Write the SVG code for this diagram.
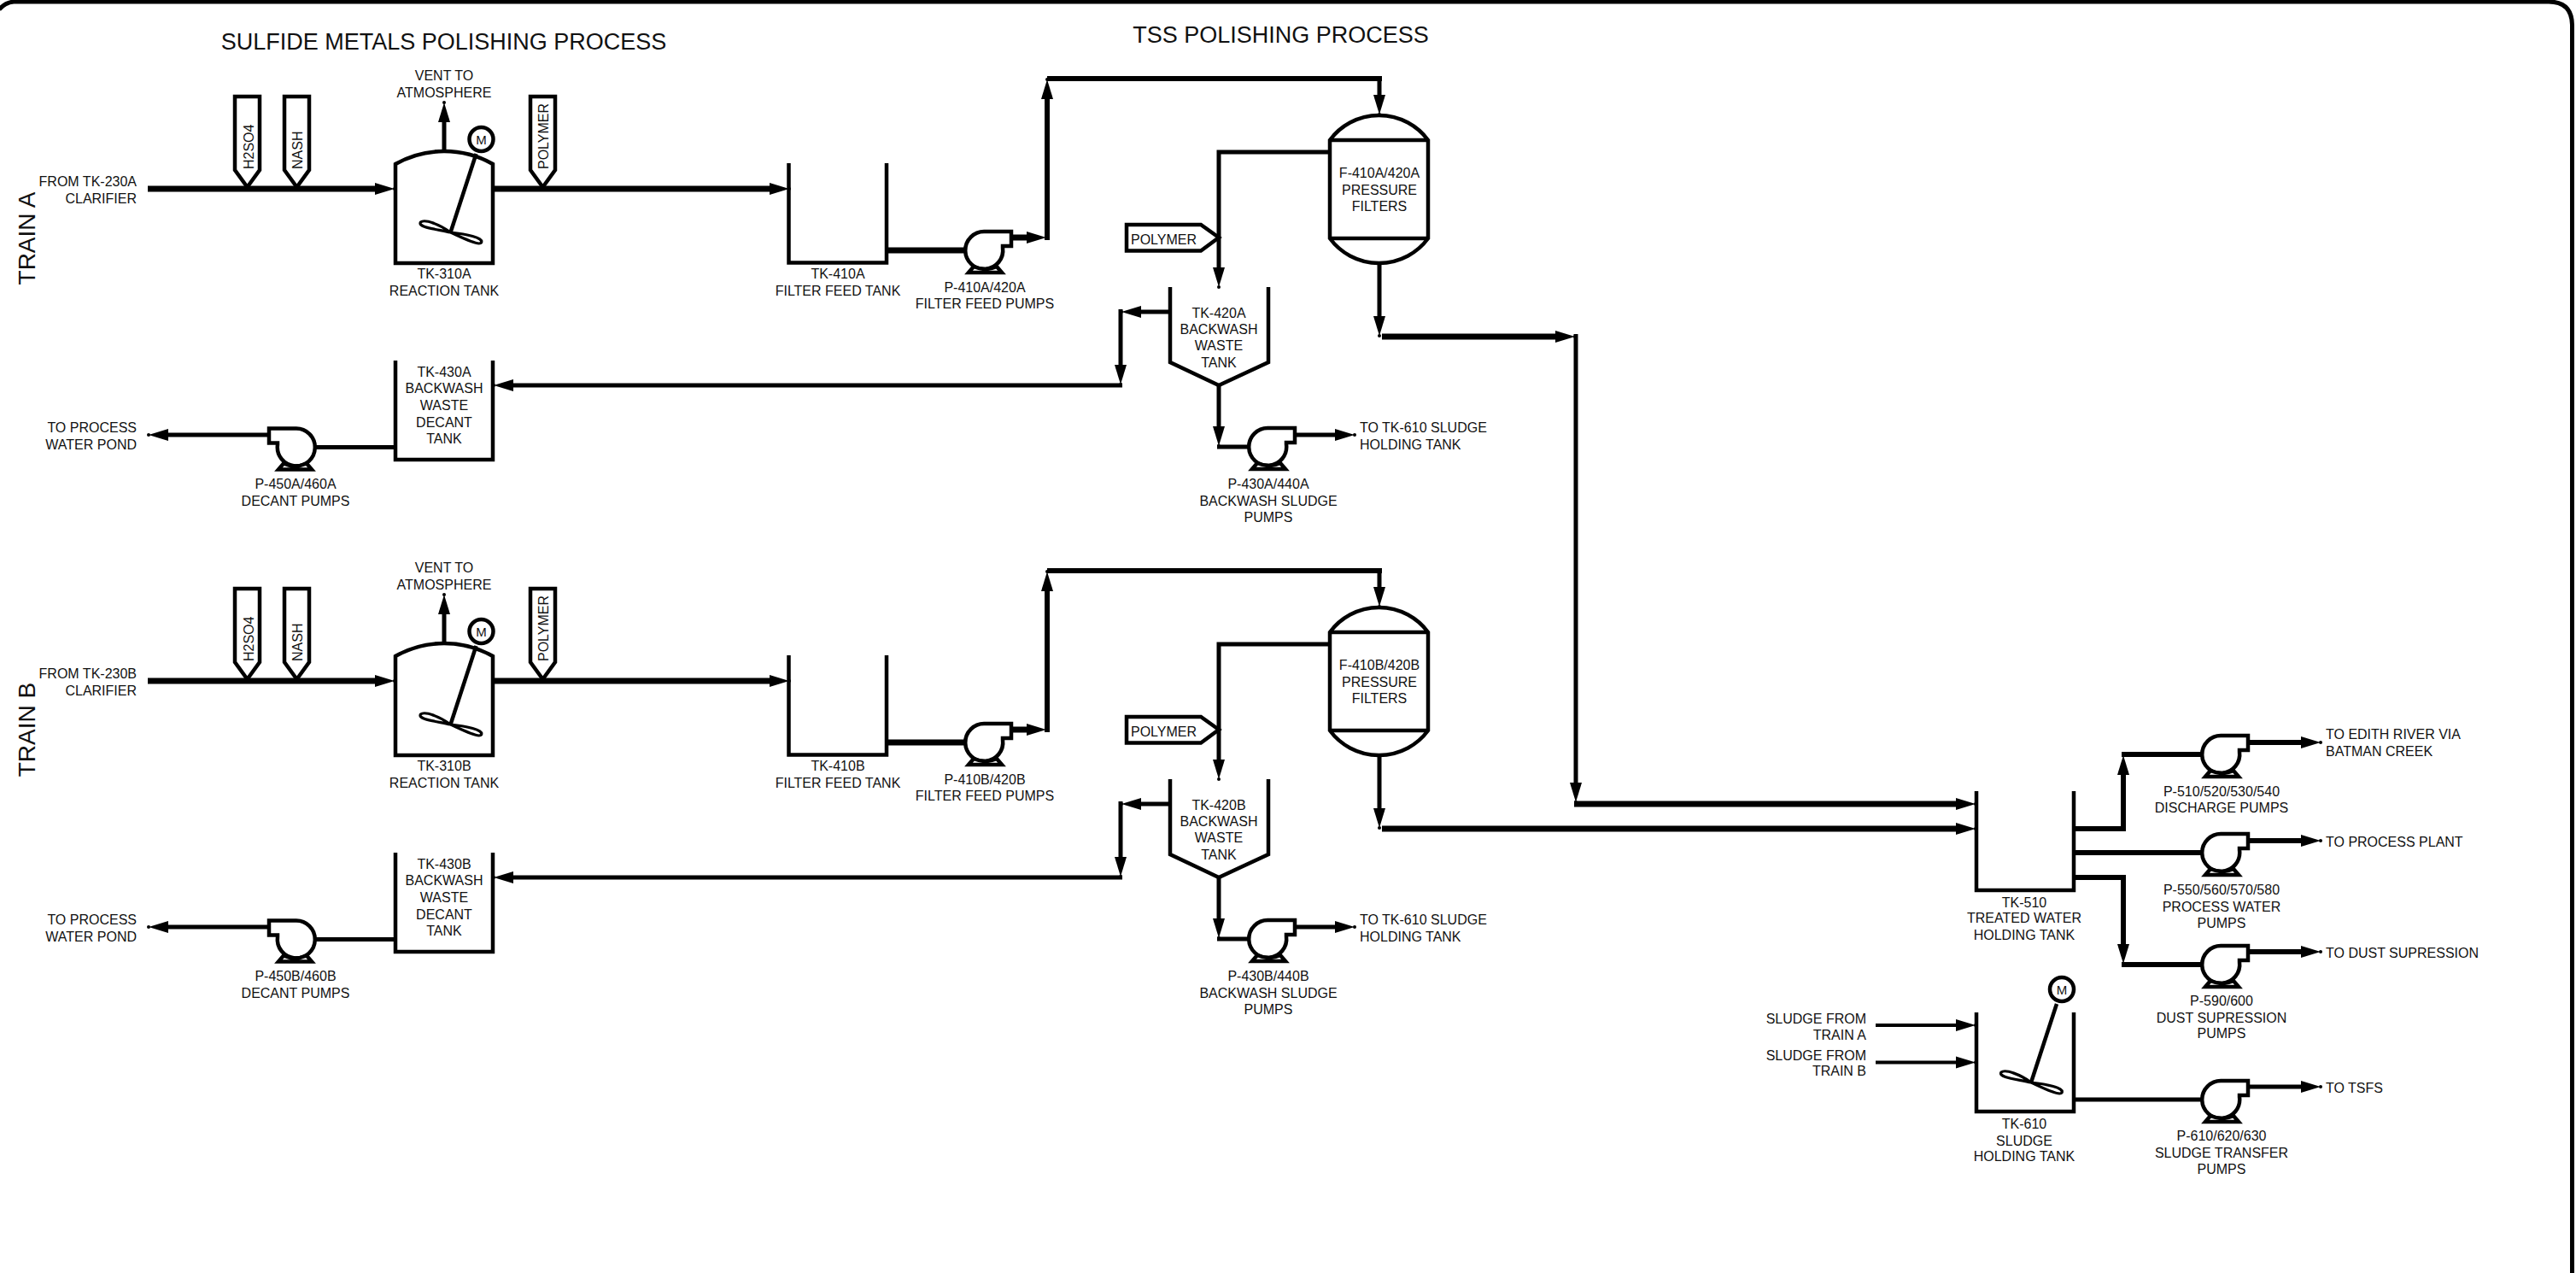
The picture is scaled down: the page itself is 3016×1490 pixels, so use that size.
<svg xmlns="http://www.w3.org/2000/svg" xmlns:xlink="http://www.w3.org/1999/xlink" width="3016" height="1490" viewBox="0 0 3016 1490">
<style>
text{font-family:"Liberation Sans",Arial,sans-serif;font-size:16px;fill:#111}
.m{text-anchor:middle}.e{text-anchor:end}
.h{font-size:27px}.tr{font-size:28px}
path,line,circle{stroke:#000;stroke-linejoin:miter}
.eq{fill:none;stroke-width:4.5}
.wh{fill:#fff;stroke-width:4.5}
.c7,.c6,.c5,.c4{fill:none}
.c7{stroke-width:7}.c6{stroke-width:6}.c5{stroke-width:5}.c4{stroke-width:4}
.ar{marker-end:url(#ah)}
.bl{fill:none;stroke-width:3.2}
</style>
<defs>
<marker id="ah" markerUnits="userSpaceOnUse" markerWidth="28" markerHeight="14" refX="4" refY="7" orient="auto" overflow="visible"><path d="M0,0L23,7L0,14Z" style="stroke:none;fill:#000"/><circle cx="23" cy="7" r="2" style="stroke:none;fill:#000"/></marker>
<g id="pump"><path class="wh" d="M0,-22H31V-5H21V-3A22,22 0 1 1 0,-22Z"/><path class="wh" d="M-19,26H20L14,19Q1,25 -13,19Z"/></g>
<g id="pumpL"><use xlink:href="#pump" transform="scale(-1,1)"/></g>
<g id="tagV"><path class="wh" d="M-14.5,-107H14.5V-21L0,-1L-14.5,-21Z"/></g>
<g id="agi"><line x1="-6" y1="17" x2="-36" y2="109" style="stroke-width:4.5"/><circle class="wh" r="14"/><path class="bl" d="M-36,109C-48,100 -66,93 -71,97C-75,103 -53,105 -36,109C-23,115 -3,125 0,121C3,115 -18,111 -36,109Z"/></g>
<g id="tk310"><path class="eq" d="M463,308V192A116,116 0 0 1 577,192V308Z"/></g>
<g id="tk410"><path class="eq" d="M923.5,191V307.5H1038V191"/></g>
<g id="tk430"><path class="eq" d="M463,422V538H577V422"/></g>
<g id="tk420"><path class="eq" d="M1370,336V424L1427,451L1485,424V336"/></g>
<g id="filter"><path class="wh" d="M1557,164A71.5,71.5 0 0 1 1672,164V279A71.5,71.5 0 0 1 1557,279Z"/><path class="eq" d="M1557,164H1672M1557,279H1672"/></g>
<g id="tagH"><path class="wh" d="M1319,263H1406L1427,278L1406,293.5H1319Z"/></g>
</defs>
<rect width="3016" height="1490" fill="#fff"/>
<path d="M-1,11Q6,3 16,2H2984Q3011,2 3011.5,29V1490" style="fill:none;stroke-width:5"/>
<text class="h m" x="519.5" y="58">SULFIDE METALS POLISHING PROCESS</text>
<text class="h m" x="1499.5" y="50">TSS POLISHING PROCESS</text>
<text class="tr m" transform="translate(41,279) rotate(-90)">TRAIN A</text>
<text class="tr m" transform="translate(41,854) rotate(-90)">TRAIN B</text>
<g id="connectors">
<g id="conn-train-a">
<path class="c7 ar" d="M173,221H443"/>
<path class="c7 ar" d="M577,221H905"/>
<path class="c5 ar" d="M520,177V139"/>
<path class="c7" d="M1038,293H1131"/>
<path class="c7 ar" d="M1183,278H1206"/>
<path class="c6 ar" d="M1226,281V112"/>
<path class="c6" d="M1226,92H1618"/>
<path class="c5 ar" d="M1615,89V115"/>
<path class="c5 ar" d="M1557,178H1427V317"/>
<path class="c5 ar" d="M1615,308V374"/>
<path class="c7 ar" d="M1618,394H1825"/>
<path class="c5 ar" d="M1845,391V920"/>
<path class="c7 ar" d="M1843,941H2294"/>
<path class="c5 ar" d="M1370,365H1332"/>
<path class="c5 ar" d="M1312,362V431"/>
<path class="c5 ar" d="M1314,451H597"/>
<path class="c5 ar" d="M1427,451V503"/>
<path class="c5" d="M1425,523H1463"/>
<path class="c5 ar" d="M1515,509H1567"/>
<path class="c5" d="M463,523.5H368"/>
<path class="c5 ar" d="M317,509H193"/>
</g>
<g id="conn-train-b" transform="translate(0,576)">
<path class="c7 ar" d="M173,221H443"/>
<path class="c7 ar" d="M577,221H905"/>
<path class="c5 ar" d="M520,177V139"/>
<path class="c7" d="M1038,293H1131"/>
<path class="c7 ar" d="M1183,278H1206"/>
<path class="c6 ar" d="M1226,281V112"/>
<path class="c6" d="M1226,92H1618"/>
<path class="c5 ar" d="M1615,89V115"/>
<path class="c5 ar" d="M1557,178H1427V317"/>
<path class="c5 ar" d="M1615,308V374"/>
<path class="c7 ar" d="M1618,394H2294"/>
<path class="c5 ar" d="M1370,365H1332"/>
<path class="c5 ar" d="M1312,362V431"/>
<path class="c5 ar" d="M1314,451H597"/>
<path class="c5 ar" d="M1427,451V503"/>
<path class="c5" d="M1425,523H1463"/>
<path class="c5 ar" d="M1515,509H1567"/>
<path class="c5" d="M463,523.5H368"/>
<path class="c5 ar" d="M317,509H193"/>
</g>
<g id="conn-outlets">
<path class="c6 ar" d="M2428,970H2486V903"/>
<path class="c6" d="M2484,883H2579"/>
<path class="c6 ar" d="M2631,869H2698"/>
<path class="c6" d="M2428,998H2579"/>
<path class="c6 ar" d="M2631,984H2698"/>
<path class="c6 ar" d="M2428,1027H2486V1109"/>
<path class="c6" d="M2484,1129H2579"/>
<path class="c6 ar" d="M2631,1114H2698"/>
<path class="c5" d="M2428,1287H2579"/>
<path class="c5 ar" d="M2631,1272H2698"/>
<path class="c4 ar" d="M2196,1200H2294"/>
<path class="c4 ar" d="M2196,1243.5H2294"/>
</g>
</g>
<g id="from-a"><text class="e" x="160" y="217.5">FROM TK-230A</text><text class="e" x="160" y="237.5">CLARIFIER</text></g>
<g id="tag-h2so4-a"><use xlink:href="#tagV" x="289.5" y="220"/><text transform="translate(296.5,198) rotate(-90)">H2SO4</text></g>
<g id="tag-nash-a"><use xlink:href="#tagV" x="347.5" y="220"/><text transform="translate(354,198) rotate(-90)">NASH</text></g>
<g id="tag-polymer-a"><use xlink:href="#tagV" x="635.5" y="220"/><text transform="translate(642,198) rotate(-90)">POLYMER</text></g>
<g id="vent-a"><text class="m" x="520" y="94">VENT TO</text><text class="m" x="520" y="113.5">ATMOSPHERE</text></g>
<g id="tk-310a"><use xlink:href="#tk310"/><use xlink:href="#agi" x="563.5" y="163"/><text class="m" x="563.5" y="169" style="font-size:15px">M</text><text class="m" x="520" y="326">TK-310A</text><text class="m" x="520" y="346">REACTION TANK</text></g>
<g id="tk-410a"><use xlink:href="#tk410"/><text class="m" x="981" y="326">TK-410A</text><text class="m" x="981" y="346">FILTER FEED TANK</text></g>
<g id="p-410a"><use xlink:href="#pump" x="1153" y="293"/><text class="m" x="1153" y="342">P-410A/420A</text><text class="m" x="1153" y="360.5">FILTER FEED PUMPS</text></g>
<g id="f-410a"><use xlink:href="#filter"/><text class="m" x="1615" y="208">F-410A/420A</text><text class="m" x="1615" y="228">PRESSURE</text><text class="m" x="1615" y="246.5">FILTERS</text></g>
<g id="polymer-a"><use xlink:href="#tagH"/><text x="1324" y="285.5">POLYMER</text></g>
<g id="tk-420a"><use xlink:href="#tk420"/><text class="m" x="1427" y="372">TK-420A</text><text class="m" x="1427" y="391">BACKWASH</text><text class="m" x="1427" y="410">WASTE</text><text class="m" x="1427" y="430">TANK</text></g>
<g id="p-430a"><use xlink:href="#pump" x="1485" y="523"/><text class="m" x="1485" y="572">P-430A/440A</text><text class="m" x="1485" y="591.5">BACKWASH SLUDGE</text><text class="m" x="1485" y="610.5">PUMPS</text></g>
<g id="to-610a"><text x="1592" y="505.5">TO TK-610 SLUDGE</text><text x="1592" y="525.5">HOLDING TANK</text></g>
<g id="tk-430a"><use xlink:href="#tk430"/><text class="m" x="520" y="441">TK-430A</text><text class="m" x="520" y="460">BACKWASH</text><text class="m" x="520" y="480">WASTE</text><text class="m" x="520" y="500">DECANT</text><text class="m" x="520" y="519">TANK</text></g>
<g id="p-450a"><use xlink:href="#pumpL" x="346" y="523.5"/><text class="m" x="346" y="571.5">P-450A/460A</text><text class="m" x="346" y="591.5">DECANT PUMPS</text></g>
<g id="to-pond-a"><text class="e" x="160" y="505.5">TO PROCESS</text><text class="e" x="160" y="525.5">WATER POND</text></g>

<g id="from-b"><text class="e" x="160" y="793.5">FROM TK-230B</text><text class="e" x="160" y="813.5">CLARIFIER</text></g>
<g id="tag-h2so4-b"><use xlink:href="#tagV" x="289.5" y="796"/><text transform="translate(296.5,774) rotate(-90)">H2SO4</text></g>
<g id="tag-nash-b"><use xlink:href="#tagV" x="347.5" y="796"/><text transform="translate(354,774) rotate(-90)">NASH</text></g>
<g id="tag-polymer-b"><use xlink:href="#tagV" x="635.5" y="796"/><text transform="translate(642,774) rotate(-90)">POLYMER</text></g>
<g id="vent-b"><text class="m" x="520" y="670">VENT TO</text><text class="m" x="520" y="689.5">ATMOSPHERE</text></g>
<g id="tk-310b"><use xlink:href="#tk310" y="576"/><use xlink:href="#agi" x="563.5" y="739"/><text class="m" x="563.5" y="745" style="font-size:15px">M</text><text class="m" x="520" y="902">TK-310B</text><text class="m" x="520" y="922">REACTION TANK</text></g>
<g id="tk-410b"><use xlink:href="#tk410" y="576"/><text class="m" x="981" y="902">TK-410B</text><text class="m" x="981" y="922">FILTER FEED TANK</text></g>
<g id="p-410b"><use xlink:href="#pump" x="1153" y="869"/><text class="m" x="1153" y="918">P-410B/420B</text><text class="m" x="1153" y="936.5">FILTER FEED PUMPS</text></g>
<g id="f-410b"><use xlink:href="#filter" y="576"/><text class="m" x="1615" y="784">F-410B/420B</text><text class="m" x="1615" y="804">PRESSURE</text><text class="m" x="1615" y="822.5">FILTERS</text></g>
<g id="polymer-b"><use xlink:href="#tagH" y="576"/><text x="1324" y="861.5">POLYMER</text></g>
<g id="tk-420b"><use xlink:href="#tk420" y="576"/><text class="m" x="1427" y="948">TK-420B</text><text class="m" x="1427" y="967">BACKWASH</text><text class="m" x="1427" y="986">WASTE</text><text class="m" x="1427" y="1006">TANK</text></g>
<g id="p-430b"><use xlink:href="#pump" x="1485" y="1099"/><text class="m" x="1485" y="1148">P-430B/440B</text><text class="m" x="1485" y="1167.5">BACKWASH SLUDGE</text><text class="m" x="1485" y="1186.5">PUMPS</text></g>
<g id="to-610b"><text x="1592" y="1081.5">TO TK-610 SLUDGE</text><text x="1592" y="1101.5">HOLDING TANK</text></g>
<g id="tk-430b"><use xlink:href="#tk430" y="576"/><text class="m" x="520" y="1017">TK-430B</text><text class="m" x="520" y="1036">BACKWASH</text><text class="m" x="520" y="1056">WASTE</text><text class="m" x="520" y="1076">DECANT</text><text class="m" x="520" y="1095">TANK</text></g>
<g id="p-450b"><use xlink:href="#pumpL" x="346" y="1099.5"/><text class="m" x="346" y="1147.5">P-450B/460B</text><text class="m" x="346" y="1167.5">DECANT PUMPS</text></g>
<g id="to-pond-b"><text class="e" x="160" y="1081.5">TO PROCESS</text><text class="e" x="160" y="1101.5">WATER POND</text></g>

<g id="tk-510"><path class="eq" d="M2314,926V1042H2428V926"/><text class="m" x="2370" y="1061.5">TK-510</text><text class="m" x="2370" y="1080">TREATED WATER</text><text class="m" x="2370" y="1100">HOLDING TANK</text></g>
<g id="tk-610"><path class="eq" d="M2314,1185V1301H2428V1185"/><use xlink:href="#agi" x="2414" y="1158"/><text class="m" x="2414" y="1164" style="font-size:15px">M</text><text class="m" x="2370" y="1321">TK-610</text><text class="m" x="2370" y="1340.5">SLUDGE</text><text class="m" x="2370" y="1359">HOLDING TANK</text></g>
<g id="sludge-a"><text class="e" x="2185" y="1198">SLUDGE FROM</text><text class="e" x="2185" y="1216.5">TRAIN A</text></g>
<g id="sludge-b"><text class="e" x="2185" y="1240.5">SLUDGE FROM</text><text class="e" x="2185" y="1259">TRAIN B</text></g>
<g id="p-510"><use xlink:href="#pump" x="2601" y="883"/><text class="m" x="2601" y="931.5">P-510/520/530/540</text><text class="m" x="2601" y="951">DISCHARGE PUMPS</text></g>
<g id="p-550"><use xlink:href="#pump" x="2601" y="998"/><text class="m" x="2601" y="1046.5">P-550/560/570/580</text><text class="m" x="2601" y="1066.5">PROCESS WATER</text><text class="m" x="2601" y="1086">PUMPS</text></g>
<g id="p-590"><use xlink:href="#pump" x="2601" y="1129"/><text class="m" x="2601" y="1176.5">P-590/600</text><text class="m" x="2601" y="1196.5">DUST SUPRESSION</text><text class="m" x="2601" y="1215">PUMPS</text></g>
<g id="p-610"><use xlink:href="#pump" x="2601" y="1287"/><text class="m" x="2601" y="1334.5">P-610/620/630</text><text class="m" x="2601" y="1354.5">SLUDGE TRANSFER</text><text class="m" x="2601" y="1374">PUMPS</text></g>
<g id="to-river"><text x="2723" y="865">TO EDITH RIVER VIA</text><text x="2723" y="885">BATMAN CREEK</text></g>
<g id="to-plant"><text x="2723" y="990.5">TO PROCESS PLANT</text></g>
<g id="to-dust"><text x="2723" y="1120.5">TO DUST SUPRESSION</text></g>
<g id="to-tsfs"><text x="2723" y="1278.5">TO TSFS</text></g>
</svg>
